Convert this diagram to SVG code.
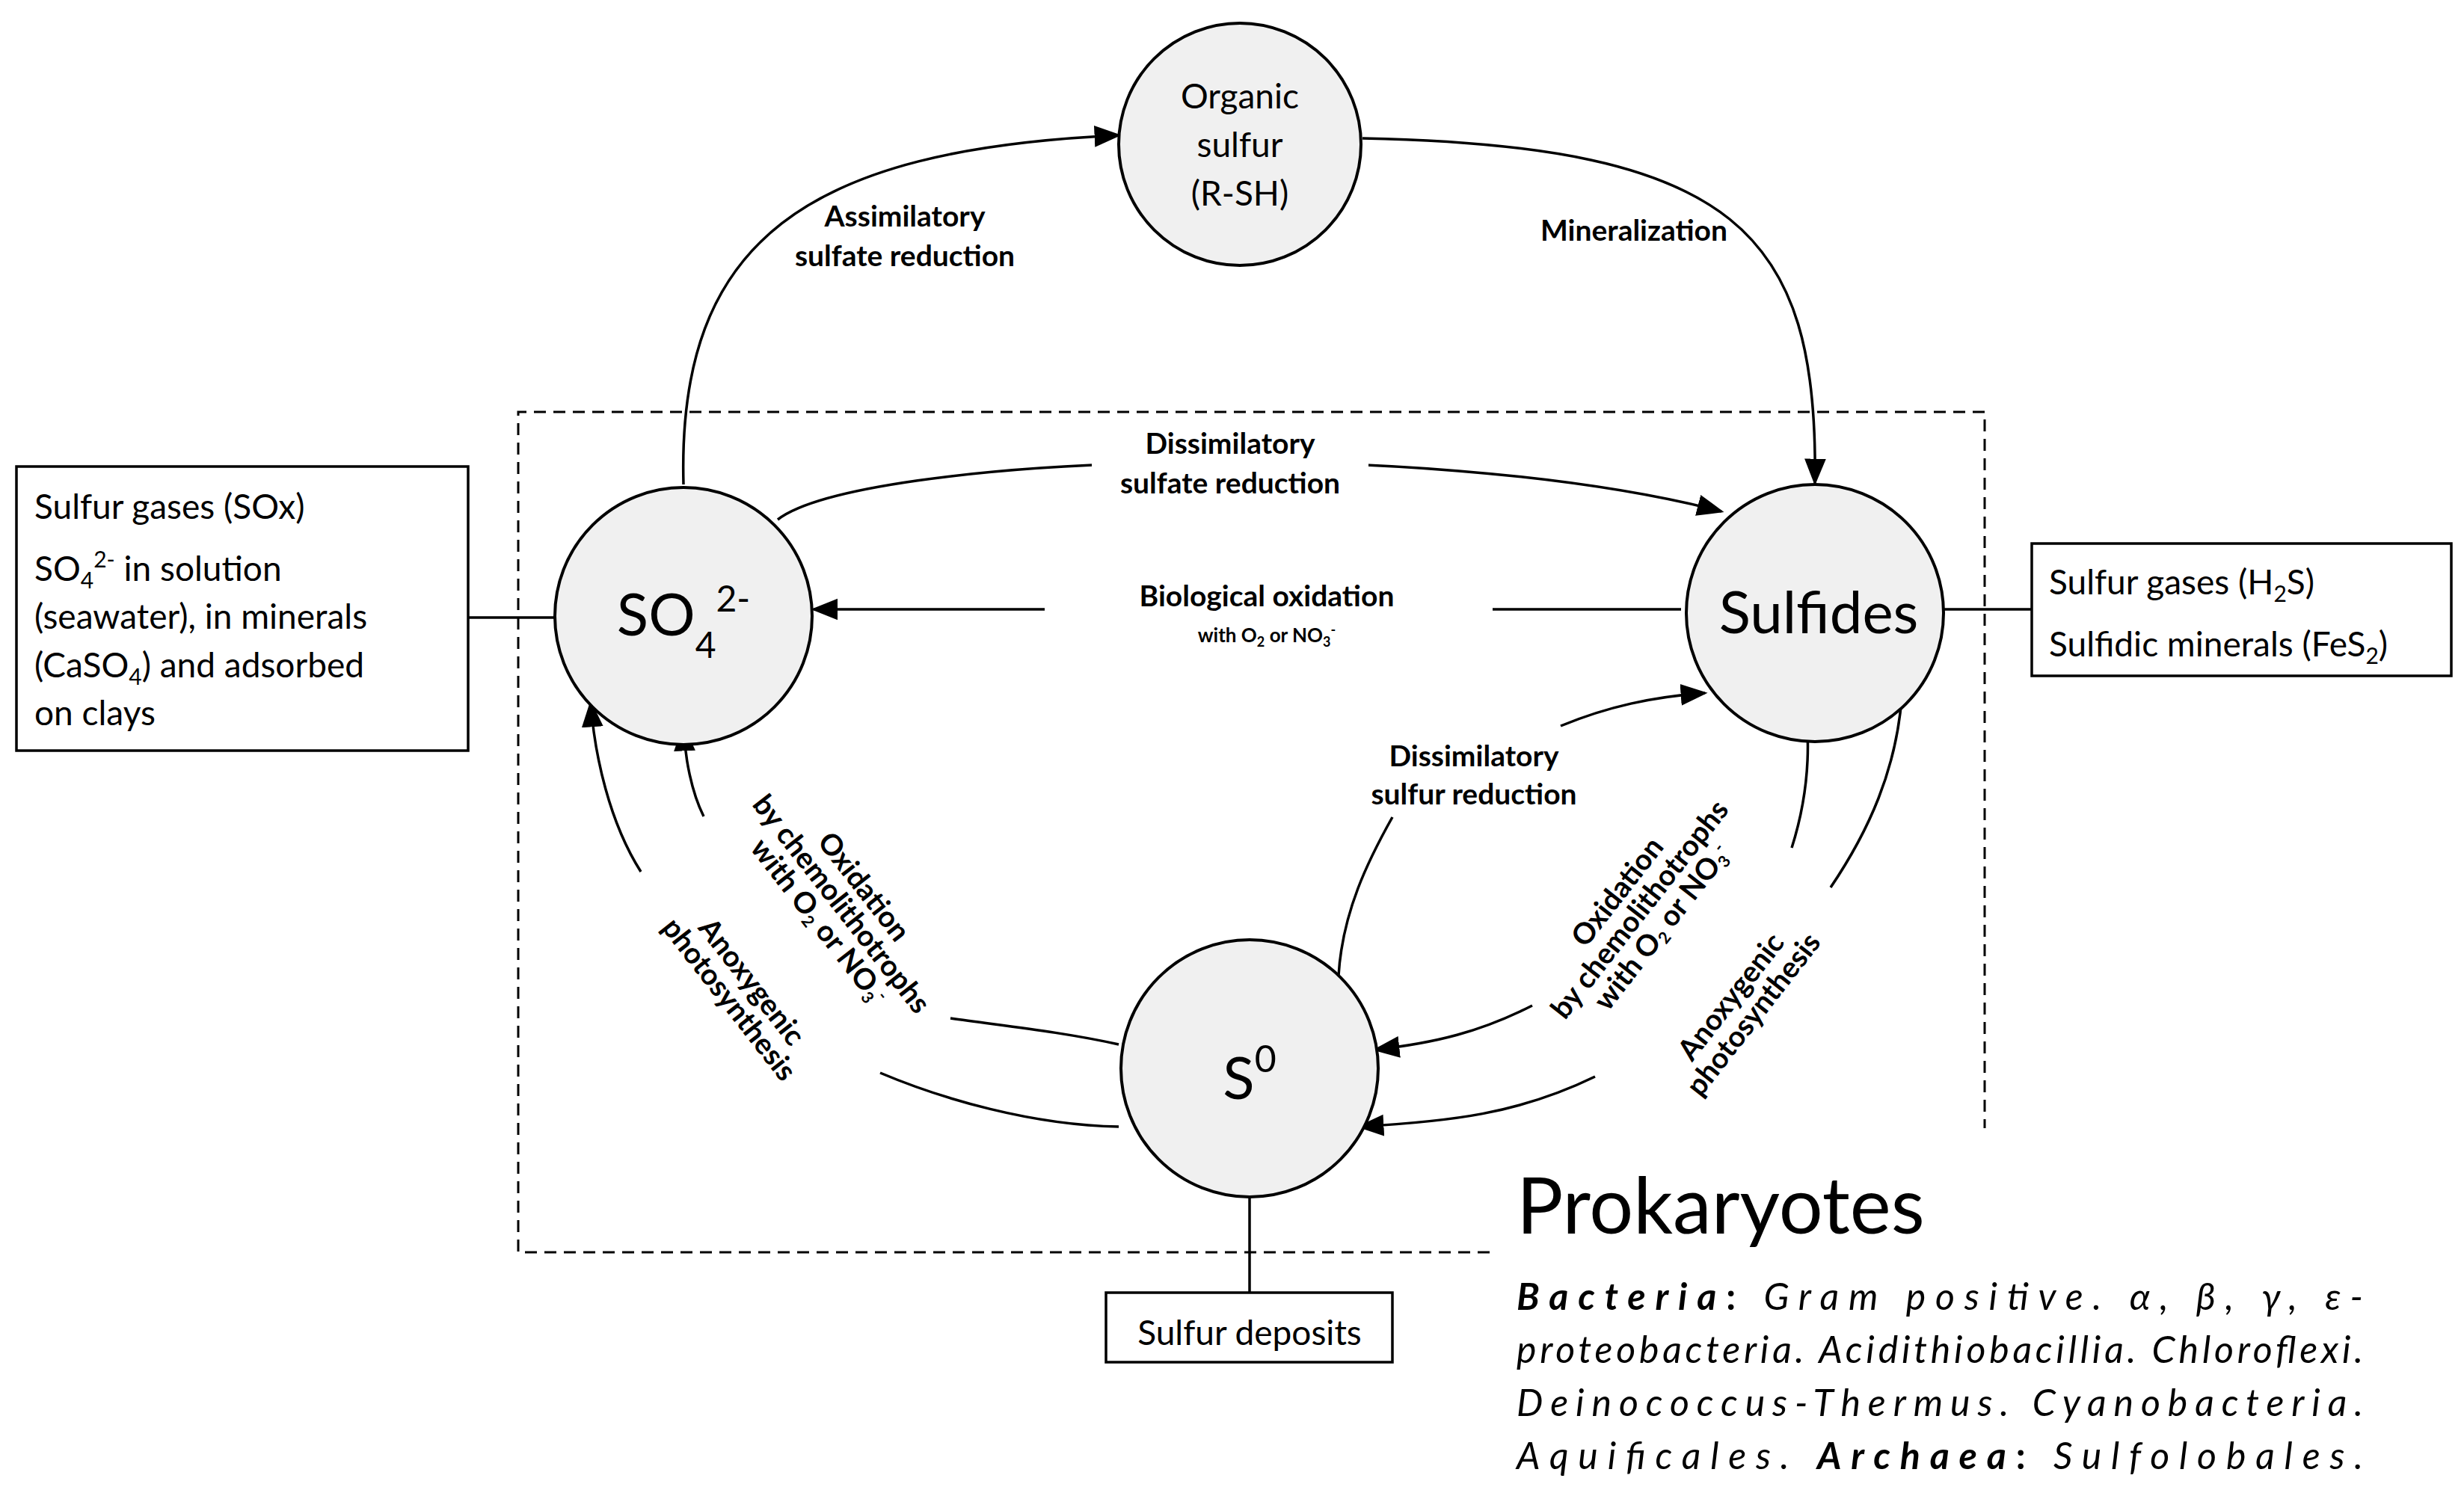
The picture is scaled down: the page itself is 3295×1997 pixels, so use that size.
<svg xmlns="http://www.w3.org/2000/svg" width="3295" height="1997" viewBox="0 0 3295 1997">
<defs>
<marker id="a" viewBox="0 0 10 10" refX="9" refY="5" markerWidth="36" markerHeight="36" markerUnits="userSpaceOnUse" orient="auto"><path d="M0,1 L10,5 L0,9 z" fill="#000"/></marker>
</defs>
<style>
text{font-family:Lato,"Open Sans","Liberation Sans",sans-serif;fill:#000}
.n{fill:#f0f0f0;stroke:#000;stroke-width:4}
.b{fill:#fff;stroke:#000;stroke-width:3.5}
.c{fill:none;stroke:#000;stroke-width:3.5}
.l{font-weight:bold;font-size:39px;text-anchor:middle}
.s{font-weight:bold;font-size:26px}
.m{font-size:46px}
.big{font-size:78px;text-anchor:middle}
.it{font-style:italic;font-size:50px}
</style>
<rect width="3295" height="1997" fill="#fff"/>
<g id="frame"><path d="M1992,1675 H693 V551 H2654 V1509" fill="none" stroke="#000" stroke-width="3" stroke-dasharray="16,10"/></g>
<g id="connectors">
<path class="c" marker-end="url(#a)" d="M914,648 C905,320 1080,200 1496,181"/>
<path class="c" marker-end="url(#a)" d="M1822,185 C2320,195 2432,310 2427,646"/>
<path class="c" marker-end="url(#a)" d="M1040,695 C1150,610 1900,580 2302,684"/>
<path class="c" d="M2248,815 H1996"/>
<path class="c" marker-end="url(#a)" d="M1397,815 H1088"/>
<path class="c" d="M1790,1305 C1795,1220 1830,1150 1862,1093"/>
<path class="c" marker-end="url(#a)" d="M2087,971 C2150,945 2210,932 2280,927"/>
<path class="c" d="M1496,1397 C1420,1380 1340,1372 1271,1362"/>
<path class="c" marker-end="url(#a)" d="M941,1092 C925,1060 916,1015 914,972"/>
<path class="c" d="M1496,1507 C1380,1505 1260,1470 1177,1435"/>
<path class="c" marker-end="url(#a)" d="M857,1166 C815,1100 795,1010 790,940"/>
<path class="c" d="M2417,977 C2420,1040 2410,1090 2396,1134"/>
<path class="c" marker-end="url(#a)" d="M2049,1345 C1980,1380 1920,1395 1839,1404"/>
<path class="c" d="M2543,935 C2535,1030 2500,1110 2448,1187"/>
<path class="c" marker-end="url(#a)" d="M2133,1440 C2030,1490 1940,1500 1818,1507"/>
<path class="c" d="M626,826 H742"/>
<path class="c" d="M2599,815 H2717"/>
<path class="c" d="M1671,1601 V1729"/>
</g>
<g id="organic"><circle class="n" cx="1658" cy="193" r="162"/>
<text class="m" x="1658" y="145" text-anchor="middle">Organic</text>
<text class="m" x="1658" y="210" text-anchor="middle">sulfur</text>
<text class="m" x="1658" y="275" text-anchor="middle">(R-SH)</text></g>
<g id="sulfate"><circle class="n" cx="914" cy="824" r="172"/>
<text x="914" y="850" class="big">SO<tspan font-size="48" dy="30">4</tspan><tspan font-size="48" dy="-62">2-</tspan></text></g>
<g id="sulfides"><circle class="n" cx="2427" cy="820" r="172"/>
<text x="2432" y="847" class="big" font-size="74">Sulfides</text></g>
<g id="s0"><circle class="n" cx="1671" cy="1429" r="172"/>
<text x="1671" y="1470" class="big">S<tspan font-size="50" dy="-36">0</tspan></text></g>
<g id="box-left"><rect class="b" x="22" y="624" width="604" height="380"/>
<text class="m" x="46" y="694">Sulfur gases (SOx)</text>
<text class="m" x="46" y="777">SO<tspan font-size="30" dy="10">4</tspan><tspan font-size="30" dy="-28">2-</tspan><tspan dy="18"> in solution</tspan></text>
<text class="m" x="46" y="841">(seawater), in minerals</text>
<text class="m" x="46" y="906">(CaSO<tspan font-size="30" dy="10">4</tspan><tspan dy="-10">) and adsorbed</tspan></text>
<text class="m" x="46" y="970">on clays</text></g>
<g id="box-right"><rect class="b" x="2717" y="727" width="561" height="177"/>
<text class="m" x="2740" y="795">Sulfur gases (H<tspan font-size="30" dy="10">2</tspan><tspan dy="-10">S)</tspan></text>
<text class="m" x="2740" y="878">Sulfidic minerals (FeS<tspan font-size="30" dy="10">2</tspan><tspan dy="-10">)</tspan></text></g>
<g id="deposits"><rect class="b" x="1479" y="1729" width="383" height="93"/>
<text class="m" x="1671" y="1799" text-anchor="middle">Sulfur deposits</text></g>
<g id="labels">
<text class="l" x="1210" y="303">Assimilatory</text>
<text class="l" x="1210" y="356">sulfate reduction</text>
<text class="l" x="2185" y="322">Mineralization</text>
<rect x="1460" y="570" width="370" height="105" fill="#fff"/>
<text class="l" x="1645" y="607">Dissimilatory</text>
<text class="l" x="1645" y="660">sulfate reduction</text>
<text class="l" x="1694" y="811">Biological oxidation</text>
<text class="s" x="1694" y="859" text-anchor="middle">with O<tspan font-size="18" dy="6">2</tspan><tspan dy="-6"> or NO</tspan><tspan font-size="18" dy="6">3</tspan><tspan font-size="18" dy="-16">-</tspan></text>
<text class="l" x="1971" y="1025" font-size="36">Dissimilatory</text>
<text class="l" x="1971" y="1076" font-size="36">sulfur reduction</text>
<g transform="translate(1118,1215) rotate(52)">
<text class="l" font-size="34" y="-34">Oxidation</text>
<text class="l" font-size="34" y="4">by chemolithotrophs</text>
<text class="l" font-size="34" y="42">with O<tspan font-size="22" dy="6">2</tspan><tspan dy="-6"> or NO</tspan><tspan font-size="22" dy="6">3</tspan><tspan font-size="22" dy="-18">-</tspan></text></g>
<g transform="translate(990,1325) rotate(52)">
<text class="l" font-size="34" y="-6">Anoxygenic</text>
<text class="l" font-size="34" y="32">photosynthesis</text></g>
<g transform="translate(2200,1222) rotate(-52)">
<text class="l" font-size="34" y="-34">Oxidation</text>
<text class="l" font-size="34" y="4">by chemolithotrophs</text>
<text class="l" font-size="34" y="42">with O<tspan font-size="22" dy="6">2</tspan><tspan dy="-6"> or NO</tspan><tspan font-size="22" dy="6">3</tspan><tspan font-size="22" dy="-18">-</tspan></text></g>
<g transform="translate(2330,1345) rotate(-52)">
<text class="l" font-size="34" y="-6">Anoxygenic</text>
<text class="l" font-size="34" y="32">photosynthesis</text></g>
</g>
<g id="prokaryotes">
<text x="2028" y="1650" font-size="104">Prokaryotes</text>
<text class="it" x="2028" y="1752" textLength="1132" lengthAdjust="spacing"><tspan font-weight="bold">Bacteria</tspan><tspan font-style="normal" font-weight="bold">:</tspan> Gram positive. α, β, γ, ε-</text>
<text class="it" x="2028" y="1823" textLength="1132" lengthAdjust="spacing">proteobacteria. Acidithiobacillia. Chloroflexi.</text>
<text class="it" x="2028" y="1894" textLength="1132" lengthAdjust="spacing">Deinococcus-Thermus. Cyanobacteria.</text>
<text class="it" x="2028" y="1965" textLength="1132" lengthAdjust="spacing">Aquificales. <tspan font-weight="bold">Archaea</tspan><tspan font-style="normal" font-weight="bold">:</tspan> Sulfolobales.</text>
</g>
</svg>
